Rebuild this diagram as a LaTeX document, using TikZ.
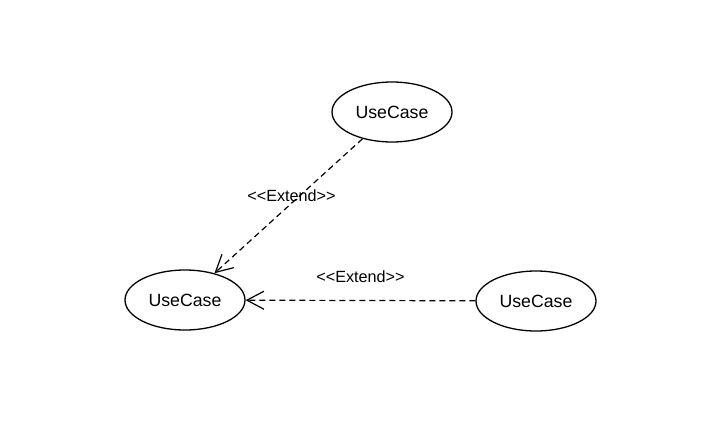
\documentclass[tikz,border=0pt]{standalone}
\usepackage{fontspec}
\setmainfont{Liberation Sans}
\usetikzlibrary{arrows.meta, shapes.geometric}

\tikzset{
    usecase/.style={ellipse, draw, line width=1.3pt, minimum width=120pt, minimum height=60pt, inner sep=0pt, font=\fontsize{17.7}{20}\selectfont},
    extend/.style={line width=1.2pt, dash pattern=on 6pt off 4pt, -{Straight Barb[length=17pt, width=18pt]}},
    extendlabel/.style={font=\fontsize{16.2}{18}\selectfont}
}

\begin{document}
\begin{tikzpicture}[x=1pt, y=-1pt]
    \useasboundingbox (0, 0) rectangle (718, 439);

    \node[usecase] (top) at (392, 112) {UseCase};
    \node[usecase] (base) at (185, 300) {UseCase};
    \node[usecase] (right) at (536, 301) {UseCase};

    \draw[extend] (top) -- (base) node[extendlabel, midway, xshift=3pt, yshift=10pt] {<\kern0pt<Extend>\kern0pt>};
    \draw[extend] (right) -- (base) node[extendlabel, midway, yshift=24pt] {<\kern0pt<Extend>\kern0pt>};
\end{tikzpicture}
\end{document}
